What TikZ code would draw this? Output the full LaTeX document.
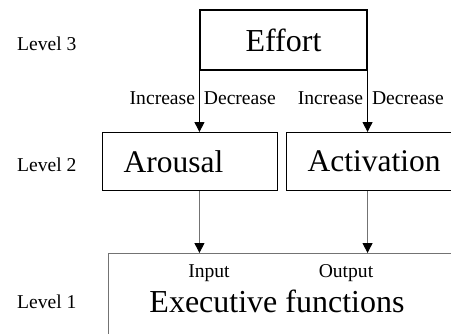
\documentclass[tikz,border=0pt]{standalone}
\usepackage{fontspec}
\setmainfont{Liberation Serif}
\usetikzlibrary{arrows.meta}

\tikzset{
  box/.style={draw, line width=1.1pt, inner sep=0pt},
  lvbox/.style={box, anchor=north west, minimum height=58pt, text width=133pt,
    inner xsep=21pt, align=left, font=\fontsize{31.5}{36}\selectfont},
  big/.style={font=\fontsize{32}{38}\selectfont},
  small/.style={font=\fontsize{19.6}{23}\selectfont},
  flow/.style={line width=0.9pt, -{Triangle[length=10pt,width=10pt,color=black]}},
  flowgray/.style={flow, draw=black!55}
}

\begin{document}
\begin{tikzpicture}[x=1pt, y=-1pt]

\useasboundingbox (0,0) rectangle (451,333);
\clip (0,0) rectangle (451,333);

\node[box, big, minimum width=167pt, minimum height=60pt] (effort) at (283.5,40) {Effort};

\node[lvbox] (arousal) at (102,132) {Arousal};
\node[lvbox] (activation) at (286,132) {Activation};

\node[box, draw=black!55, line width=1pt, anchor=north west,
  minimum width=370pt, minimum height=110pt] (exec) at (108,253) {};
\node[small, anchor=base] (input) at (209,277.5) {Input};
\node[small, anchor=base] (output) at (346,277.5) {Output};
\node[big, anchor=base] (execname) at (277,312.5) {Executive functions};

\node[small, anchor=base west, inner sep=0pt] (lvthree) at (17,50) {Level 3};
\node[small, anchor=base west, inner sep=0pt] (lvtwo) at (17,171.5) {Level 2};
\node[small, anchor=base west, inner sep=0pt] (lvone) at (17,308.5) {Level 1};

\draw[flow] (effort.south west) --
  node[pos=.45, left, small, inner xsep=4pt] (incone) {Increase}
  node[pos=.45, right, small, inner xsep=4pt] (decone) {Decrease}
  (effort.south west |- arousal.north);
\draw[flow] (effort.south east) --
  node[pos=.45, left, small, inner xsep=4pt] (inctwo) {Increase}
  node[pos=.45, right, small, inner xsep=4pt] (dectwo) {Decrease}
  (effort.south east |- activation.north);

\draw[flowgray] (effort.south west |- arousal.south) -- (effort.south west |- exec.north);
\draw[flowgray] (effort.south east |- activation.south) -- (effort.south east |- exec.north);

\end{tikzpicture}
\end{document}
